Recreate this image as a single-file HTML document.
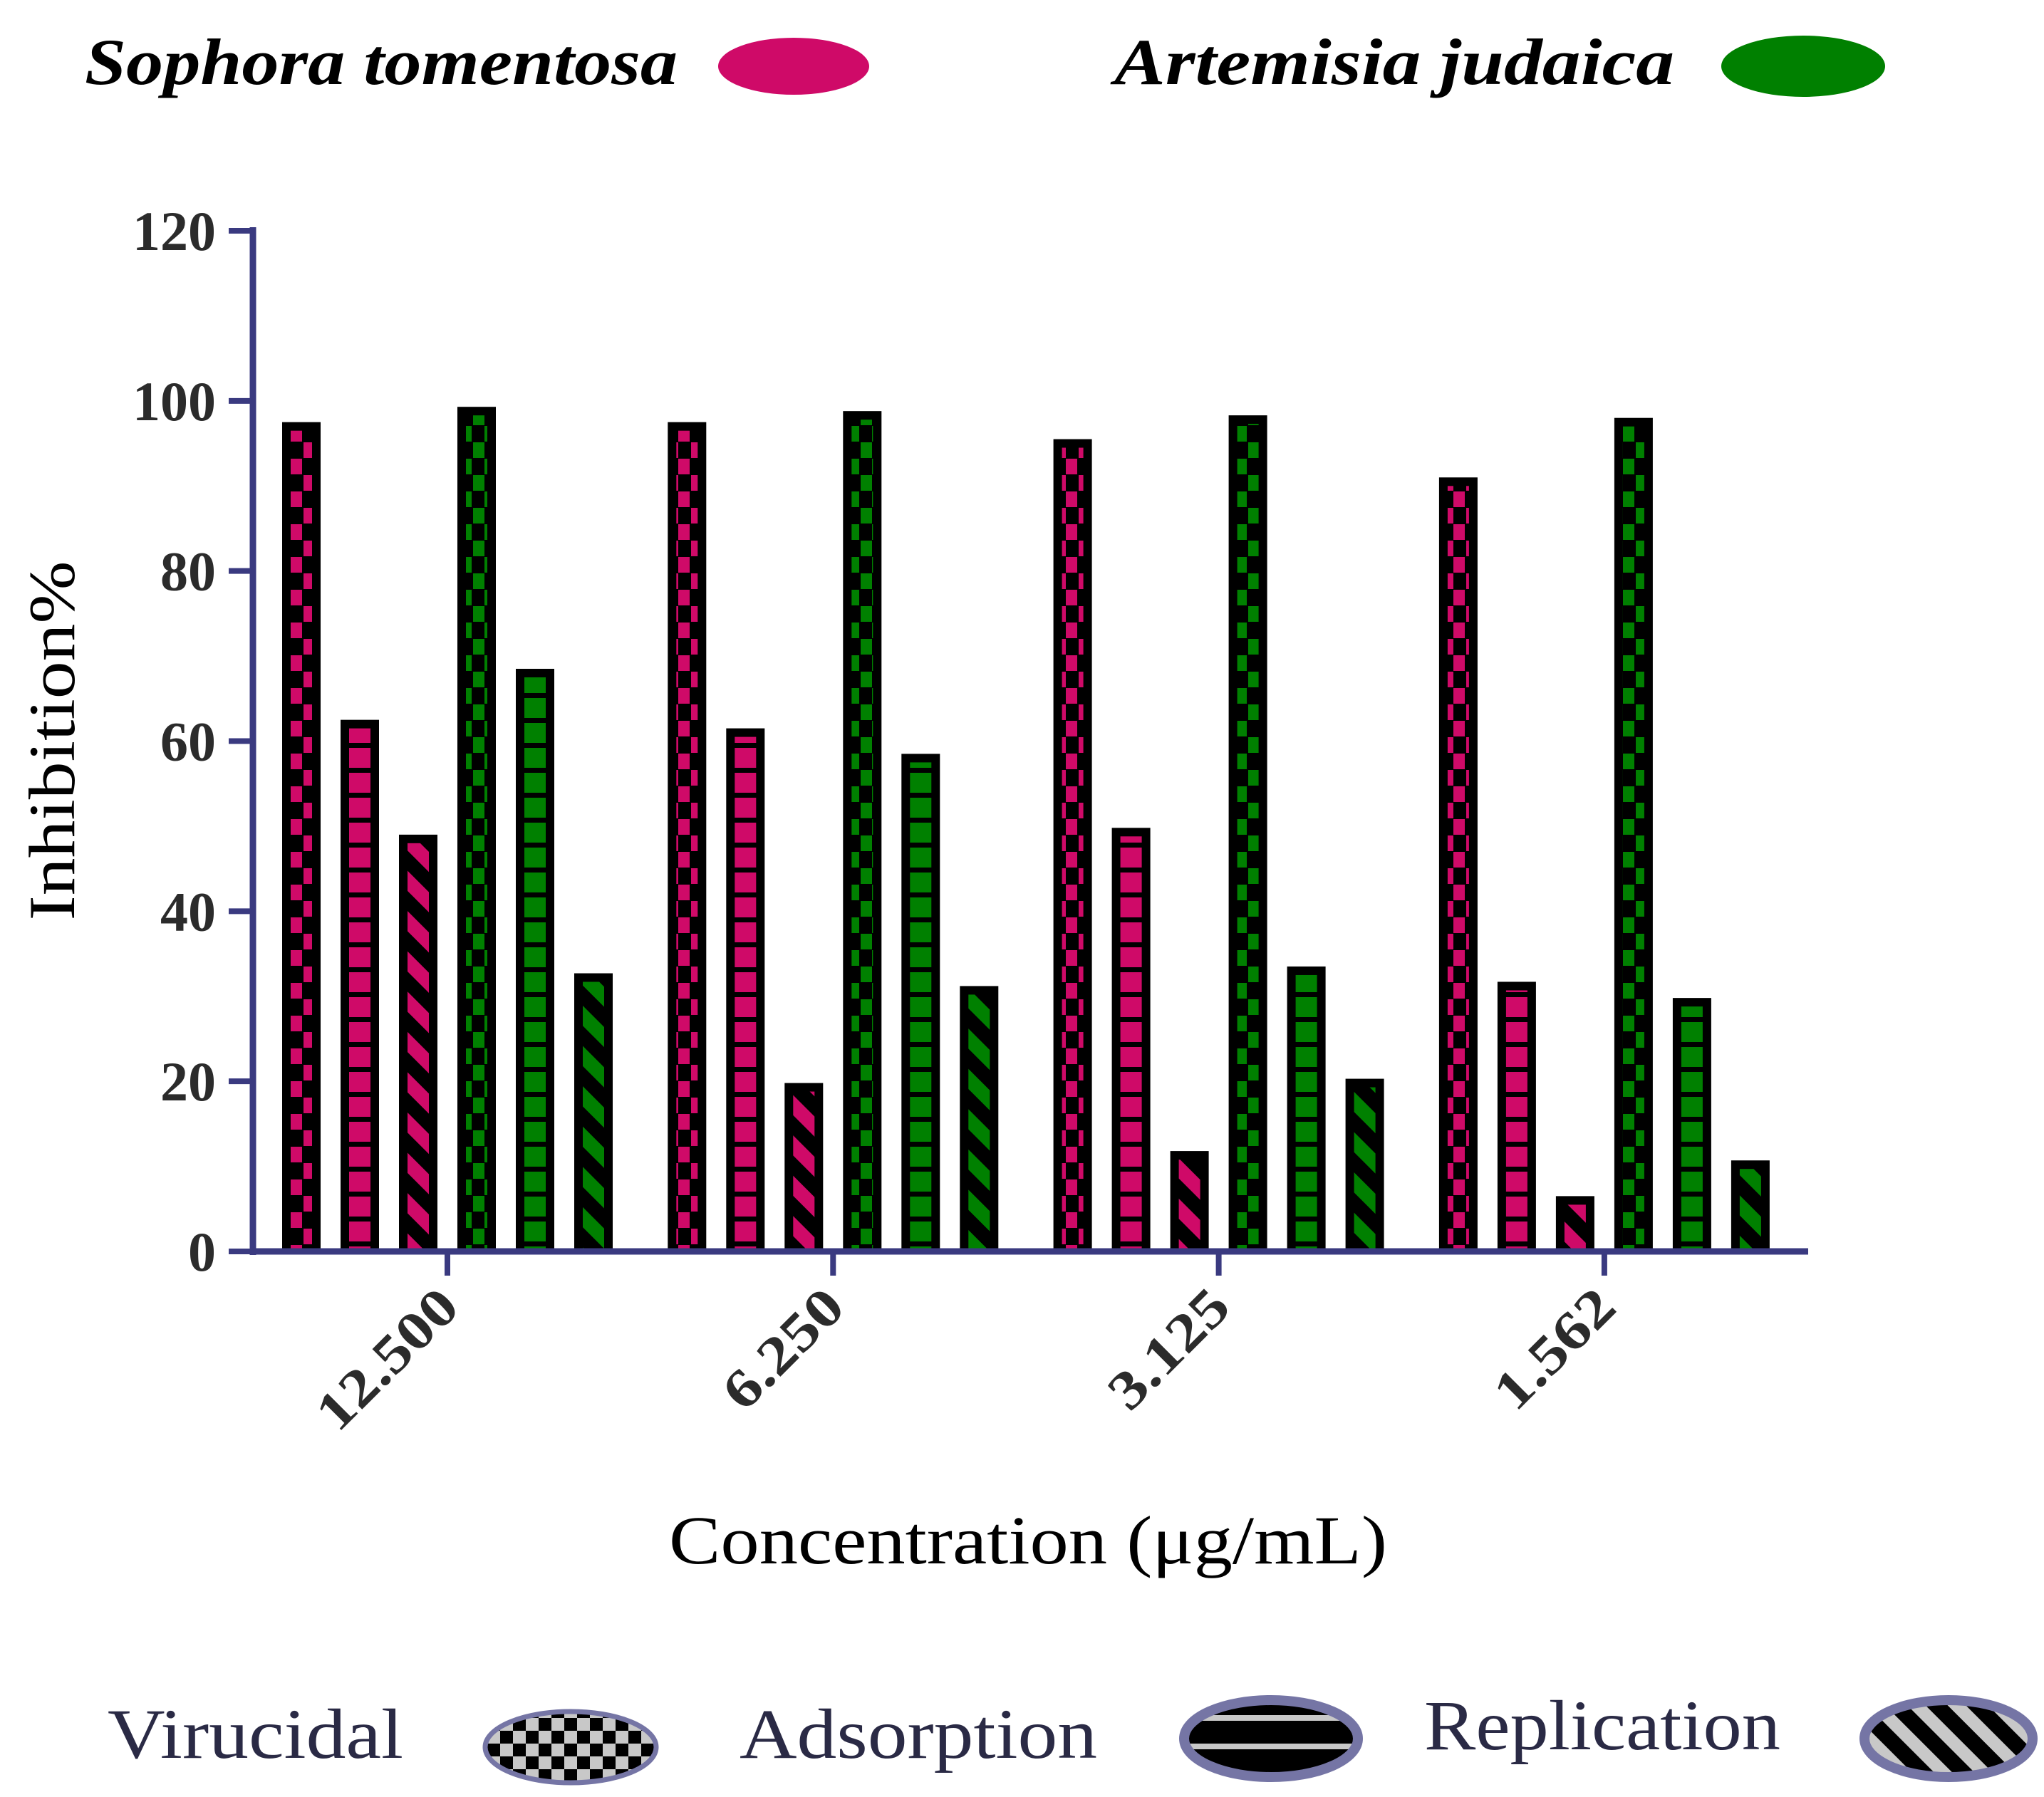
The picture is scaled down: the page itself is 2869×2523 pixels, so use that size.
<!DOCTYPE html>
<html><head><meta charset="utf-8">
<style>
html,body{margin:0;padding:0;background:#fff;}
svg{display:block;}
text{font-family:"Liberation Serif",serif;}
</style></head>
<body>
<svg id="chart" width="2869" height="2523" viewBox="0 0 2869 2523" xmlns="http://www.w3.org/2000/svg">
<defs>
  <pattern id="chkP" patternUnits="userSpaceOnUse" width="34" height="46"><rect width="34" height="46" fill="#000"/><rect x="0" y="0" width="16" height="22" fill="#cf0a68"/><rect x="18" y="23" width="16" height="22" fill="#cf0a68"/></pattern>
  <pattern id="chkG" patternUnits="userSpaceOnUse" width="34" height="46"><rect width="34" height="46" fill="#000"/><rect x="0" y="0" width="16" height="22" fill="#008000"/><rect x="18" y="23" width="16" height="22" fill="#008000"/></pattern>
  <pattern id="horP" patternUnits="userSpaceOnUse" width="40" height="35"><rect width="40" height="35" fill="#000"/><rect y="0" width="40" height="28" fill="#cf0a68"/></pattern>
  <pattern id="horG" patternUnits="userSpaceOnUse" width="40" height="35"><rect width="40" height="35" fill="#000"/><rect y="0" width="40" height="28" fill="#008000"/></pattern>
  <pattern id="diaP" patternUnits="userSpaceOnUse" width="40" height="40" patternTransform="rotate(-45)"><rect width="40" height="40" fill="#000"/><rect width="20" height="40" fill="#cf0a68"/></pattern>
  <pattern id="diaG" patternUnits="userSpaceOnUse" width="40" height="40" patternTransform="rotate(-45)"><rect width="40" height="40" fill="#000"/><rect width="20" height="40" fill="#008000"/></pattern>
  <pattern id="legChk" patternUnits="userSpaceOnUse" width="36" height="36"><rect width="36" height="36" fill="#c8c8c8"/><rect width="18" height="18" fill="#000"/><rect x="18" y="18" width="18" height="18" fill="#000"/></pattern>
  <pattern id="legHor" patternUnits="userSpaceOnUse" width="40" height="40"><rect width="40" height="40" fill="#000"/><rect y="8" width="40" height="8" fill="#c8c8c8"/></pattern>
  <pattern id="legDia" patternUnits="userSpaceOnUse" width="40" height="40" patternTransform="rotate(-45)"><rect width="40" height="40" fill="#000"/><rect width="18" height="40" fill="#c8c8c8"/></pattern>
</defs>
<g id="bars"></g>
<g id="axes"></g>
<text x="119" y="118" font-size="92" font-weight="bold" font-style="italic" fill="#000" textLength="832" lengthAdjust="spacingAndGlyphs">Sophora tomentosa</text>
<ellipse cx="1114" cy="93" rx="106" ry="40" fill="#cf0a68"/>
<text x="1564" y="118" font-size="92" font-weight="bold" font-style="italic" fill="#000" textLength="786" lengthAdjust="spacingAndGlyphs">Artemisia judaica</text>
<ellipse cx="2531" cy="93" rx="115" ry="43" fill="#008000"/>
<text transform="translate(104,1040) rotate(-90)" text-anchor="middle" font-size="92" fill="#000" textLength="505" lengthAdjust="spacingAndGlyphs">Inhibition%</text>
<text x="1443" y="2195" text-anchor="middle" font-size="96" fill="#000" textLength="1008" lengthAdjust="spacingAndGlyphs">Concentration (μg/mL)</text>
<text x="151" y="2468" font-size="100" fill="#2a2a45" textLength="415" lengthAdjust="spacingAndGlyphs">Virucidal</text>
<ellipse cx="801" cy="2453" rx="120" ry="50" fill="url(#legChk)" stroke="#7575a5" stroke-width="7"/>
<text x="1038" y="2468" font-size="100" fill="#2a2a45" textLength="502" lengthAdjust="spacingAndGlyphs">Adsorption</text>
<ellipse cx="1784" cy="2441" rx="122" ry="54" fill="url(#legHor)" stroke="#7575a5" stroke-width="14"/>
<text x="1999" y="2456" font-size="100" fill="#2a2a45" textLength="500" lengthAdjust="spacingAndGlyphs">Replication</text>
<ellipse cx="2735" cy="2441" rx="118" ry="54" fill="url(#legDia)" stroke="#7575a5" stroke-width="14"/>
<script>
const categories = ["12.500","6.250","3.125","1.562"];
const sophoraVirucidal = [97.5, 97.5, 95.5, 91];
const sophoraAdsorption = [62.5, 61.5, 49.8, 31.7];
const sophoraReplication = [49, 19.8, 11.8, 6.5];
const artemisiaVirucidal = [99.3, 98.8, 98.3, 98];
const artemisiaAdsorption = [68.5, 58.5, 33.5, 29.8];
const artemisiaReplication = [32.7, 31.2, 20.3, 10.7];
const yTicks = [0,20,40,60,80,100,120];

const NS = "http://www.w3.org/2000/svg";
const X0 = 355, X1 = 2538, Y0 = 1757, Y120 = 324;
const yScale = v => Y0 - (v/120)*(Y0-Y120);
const groupCenter = i => 628 + i*541.3;
const series = [
  {vals: sophoraVirucidal, fill: "url(#chkP)", name: "sophora-virucidal"},
  {vals: sophoraAdsorption, fill: "url(#horP)", name: "sophora-adsorption"},
  {vals: sophoraReplication, fill: "url(#diaP)", name: "sophora-replication"},
  {vals: artemisiaVirucidal, fill: "url(#chkG)", name: "artemisia-virucidal"},
  {vals: artemisiaAdsorption, fill: "url(#horG)", name: "artemisia-adsorption"},
  {vals: artemisiaReplication, fill: "url(#diaG)", name: "artemisia-replication"}
];
const barsG = document.getElementById("bars");
const axesG = document.getElementById("axes");
function mk(tag, attrs, parent){ const e=document.createElementNS(NS,tag); for(const k in attrs) e.setAttribute(k,attrs[k]); parent.appendChild(e); return e; }
const BW = 54, SP = 82, B = 12;
categories.forEach((c,i)=>{
  series.forEach((s,j)=>{
    const cx = groupCenter(i) + (j-2.5)*SP;
    const top = yScale(s.vals[i]);
    const g = mk("g",{},barsG);
    
    
    mk("rect",{x:cx-BW/2,y:top,width:BW,height:Y0-top,fill:"#000"},g);
    const ih = Y0-top-B*2;
    if(ih>0) mk("rect",{x:cx-BW/2+B,y:top+B,width:BW-2*B,height:ih+B,fill:s.fill},g);
  });
});
const yAxis = mk("line",{x1:X0,y1:Y120-5,x2:X0,y2:Y0+5,stroke:"#3a3a80","stroke-width":9},axesG);


const xAxis = mk("line",{x1:X0-4,y1:Y0,x2:X1,y2:Y0,stroke:"#3a3a80","stroke-width":9},axesG);


yTicks.forEach(t=>{
  const y=yScale(t);
  const tk = mk("line",{x1:X0-34,y1:y,x2:X0,y2:y,stroke:"#3a3a80","stroke-width":8},axesG);
  
  
  const tx = mk("text",{x:X0-52,y:y+27,"text-anchor":"end","font-size":78,"font-weight":"bold",fill:"#2b2b2b"},axesG);
  tx.textContent = t;
  
  
});
categories.forEach((c,i)=>{
  const x=groupCenter(i);
  const tk = mk("line",{x1:x,y1:Y0,x2:x,y2:Y0+34,stroke:"#3a3a80","stroke-width":8},axesG);
  
  
  const tx = mk("text",{transform:`translate(${x+20},${Y0+82}) rotate(-45)`,"text-anchor":"end","font-size":76,"font-weight":"bold",fill:"#2b2b2b",textLength:(c.length*41),lengthAdjust:"spacingAndGlyphs"},axesG);
  tx.textContent = c;
  
  
});
</script>
</svg>
</body></html>
